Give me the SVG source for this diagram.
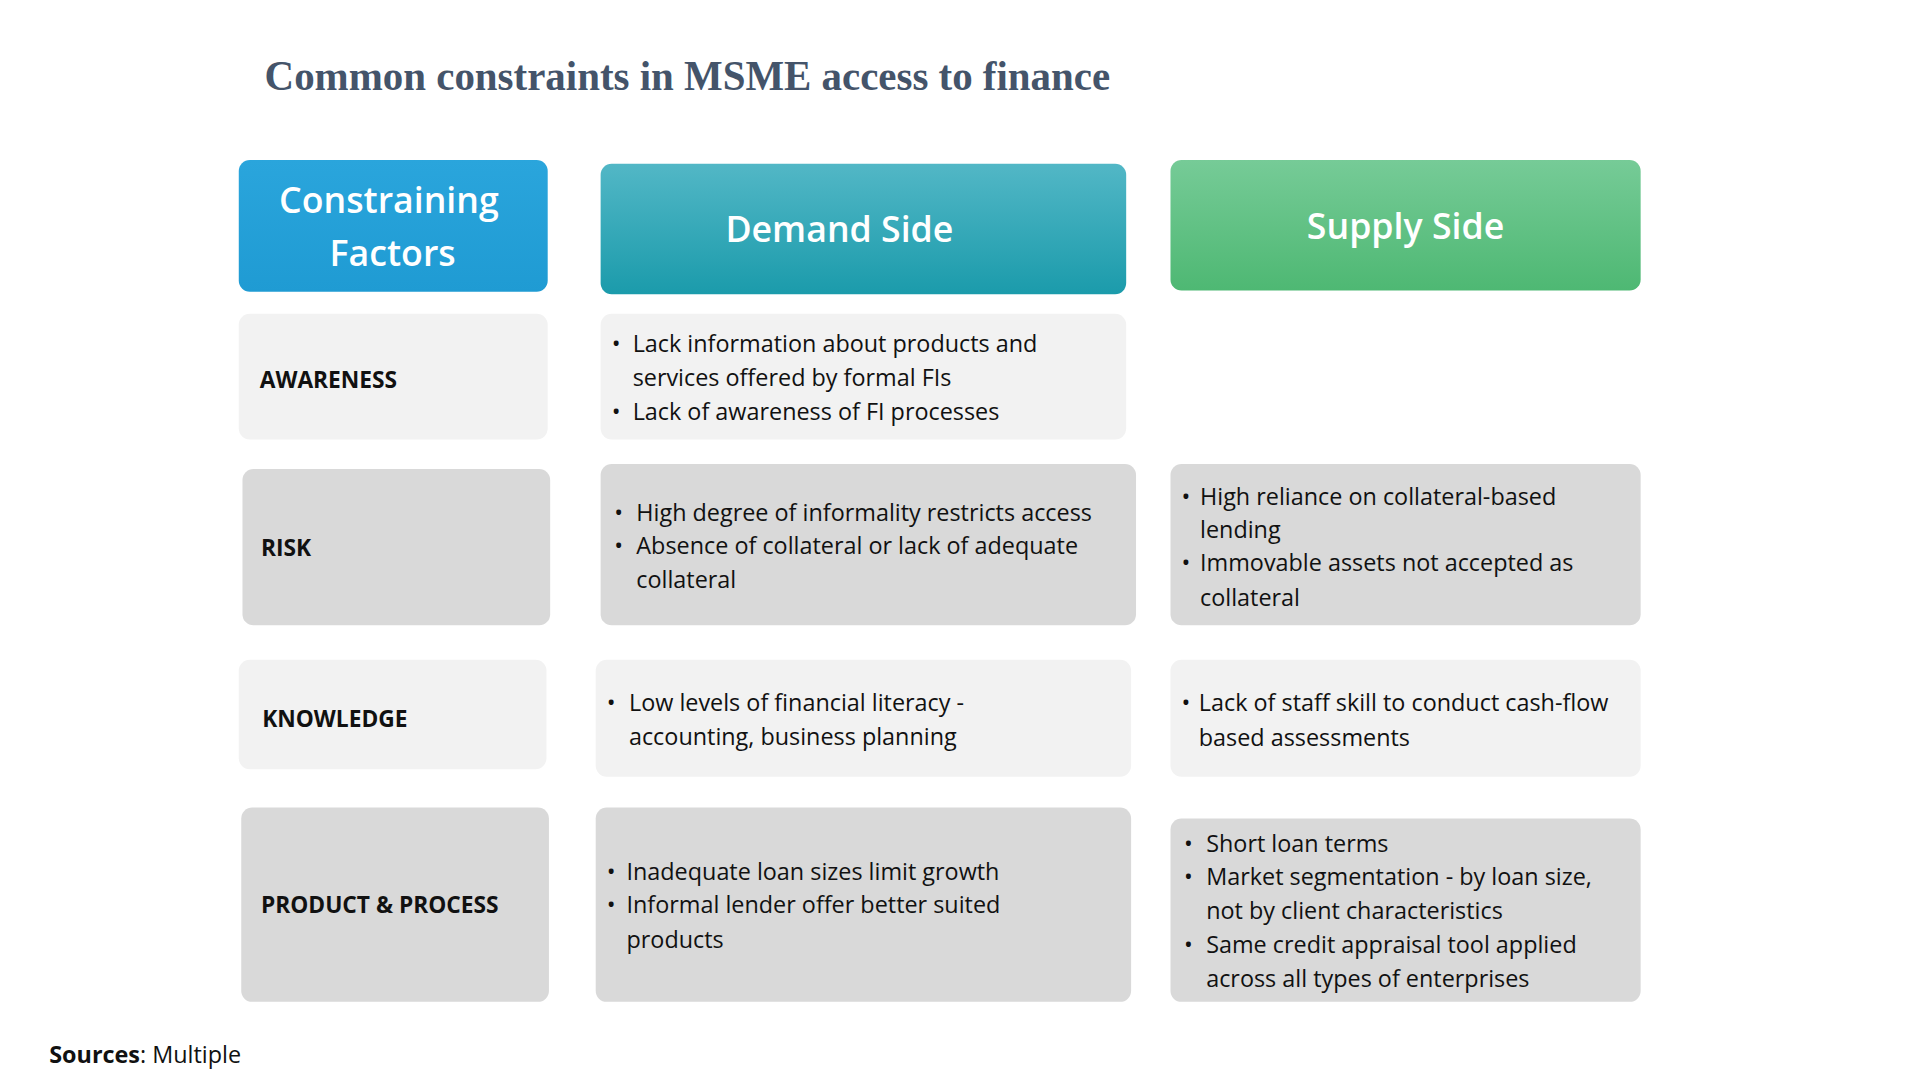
<svg xmlns="http://www.w3.org/2000/svg" width="1920" height="1080" viewBox="0 0 1920 1080">
<defs>
<linearGradient id="g1" x1="0" y1="0" x2="0" y2="1"><stop offset="0" stop-color="#2aa5dc"/><stop offset="1" stop-color="#1f9bd3"/></linearGradient>
<linearGradient id="g2" x1="0" y1="0" x2="0" y2="1"><stop offset="0" stop-color="#52b7c6"/><stop offset="1" stop-color="#1b9bab"/></linearGradient>
<linearGradient id="g3" x1="0" y1="0" x2="0" y2="1"><stop offset="0" stop-color="#76cb97"/><stop offset="1" stop-color="#4eb873"/></linearGradient>
<style>
.h{font-family:"Open Sans","Liberation Sans",sans-serif;font-weight:600;fill:#fff;font-size:29px;text-anchor:middle}
.l{font-family:"Open Sans","Liberation Sans",sans-serif;font-weight:700;fill:#111;font-size:18.5px}
.t{font-family:"Open Sans","Liberation Sans",sans-serif;fill:#111;font-size:19px}
.lt{fill:#f2f2f2}.dk{fill:#d9d9d9}
</style>
</defs>
<rect width="1920" height="1080" fill="#fff"/>
<g transform="scale(1.2308)">
<text x="215" y="73" font-family="'Liberation Serif',serif" font-weight="700" font-size="34" fill="#44546a" textLength="687" lengthAdjust="spacingAndGlyphs">Common constraints in MSME access to finance</text>
<g id="h1"><rect x="194" y="130" width="251" height="107" rx="9" fill="url(#g1)"/><text class="h" x="316" y="173">Constraining</text><text class="h" x="319" y="216">Factors</text></g>
<g id="h2"><rect x="488" y="133" width="427" height="106" rx="9" fill="url(#g2)"/><text class="h" x="682" y="197">Demand Side</text></g>
<g id="h3"><rect x="951" y="130" width="382" height="106" rx="9" fill="url(#g3)"/><text class="h" x="1142" y="194">Supply Side</text></g>

<g id="r1l"><rect class="lt" x="194" y="255" width="251" height="102" rx="9"/><text class="l" x="211" y="315">AWARENESS</text></g>
<g id="r1m"><rect class="lt" x="488" y="255" width="427" height="102" rx="9"/>
<text class="t" x="497" y="286">•</text><text class="t" x="514" y="286">Lack information about products and</text>
<text class="t" x="514" y="314">services offered by formal FIs</text>
<text class="t" x="497" y="341">•</text><text class="t" x="514" y="341">Lack of awareness of FI processes</text></g>

<g id="r2l"><rect class="dk" x="197" y="381" width="250" height="127" rx="9"/><text class="l" x="212" y="452">RISK</text></g>
<g id="r2m"><rect class="dk" x="488" y="377" width="435" height="131" rx="9"/>
<text class="t" x="499" y="423">•</text><text class="t" x="517" y="423">High degree of informality restricts access</text>
<text class="t" x="499" y="450">•</text><text class="t" x="517" y="450">Absence of collateral or lack of adequate</text>
<text class="t" x="517" y="478">collateral</text></g>
<g id="r2r"><rect class="dk" x="951" y="377" width="382" height="131" rx="9"/>
<text class="t" x="960" y="410">•</text><text class="t" x="975" y="410">High reliance on collateral-based</text>
<text class="t" x="975" y="437">lending</text>
<text class="t" x="960" y="464">•</text><text class="t" x="975" y="464">Immovable assets not accepted as</text>
<text class="t" x="975" y="492">collateral</text></g>

<g id="r3l"><rect class="lt" x="194" y="536" width="250" height="89" rx="9"/><text class="l" x="213" y="591">KNOWLEDGE</text></g>
<g id="r3m"><rect class="lt" x="484" y="536" width="435" height="95" rx="9"/>
<text class="t" x="493" y="578">•</text><text class="t" x="511" y="578">Low levels of financial literacy -</text>
<text class="t" x="511" y="605">accounting, business planning</text></g>
<g id="r3r"><rect class="lt" x="951" y="536" width="382" height="95" rx="9"/>
<text class="t" x="960" y="578">•</text><text class="t" x="974" y="578">Lack of staff skill to conduct cash-flow</text>
<text class="t" x="974" y="606">based assessments</text></g>

<g id="r4l"><rect class="dk" x="196" y="656" width="250" height="158" rx="9"/><text class="l" x="212" y="742">PRODUCT &amp; PROCESS</text></g>
<g id="r4m"><rect class="dk" x="484" y="656" width="435" height="158" rx="9"/>
<text class="t" x="493" y="715">•</text><text class="t" x="509" y="715">Inadequate loan sizes limit growth</text>
<text class="t" x="493" y="742">•</text><text class="t" x="509" y="742">Informal lender offer better suited</text>
<text class="t" x="509" y="770">products</text></g>
<g id="r4r"><rect class="dk" x="951" y="665" width="382" height="149" rx="9"/>
<text class="t" x="962" y="692">•</text><text class="t" x="980" y="692">Short loan terms</text>
<text class="t" x="962" y="719">•</text><text class="t" x="980" y="719">Market segmentation - by loan size,</text>
<text class="t" x="980" y="747">not by client characteristics</text>
<text class="t" x="962" y="774">•</text><text class="t" x="980" y="774">Same credit appraisal tool applied</text>
<text class="t" x="980" y="802">across all types of enterprises</text></g>

<text class="t" x="40" y="864"><tspan font-weight="700">Sources</tspan>: Multiple</text>
</g>
</svg>
